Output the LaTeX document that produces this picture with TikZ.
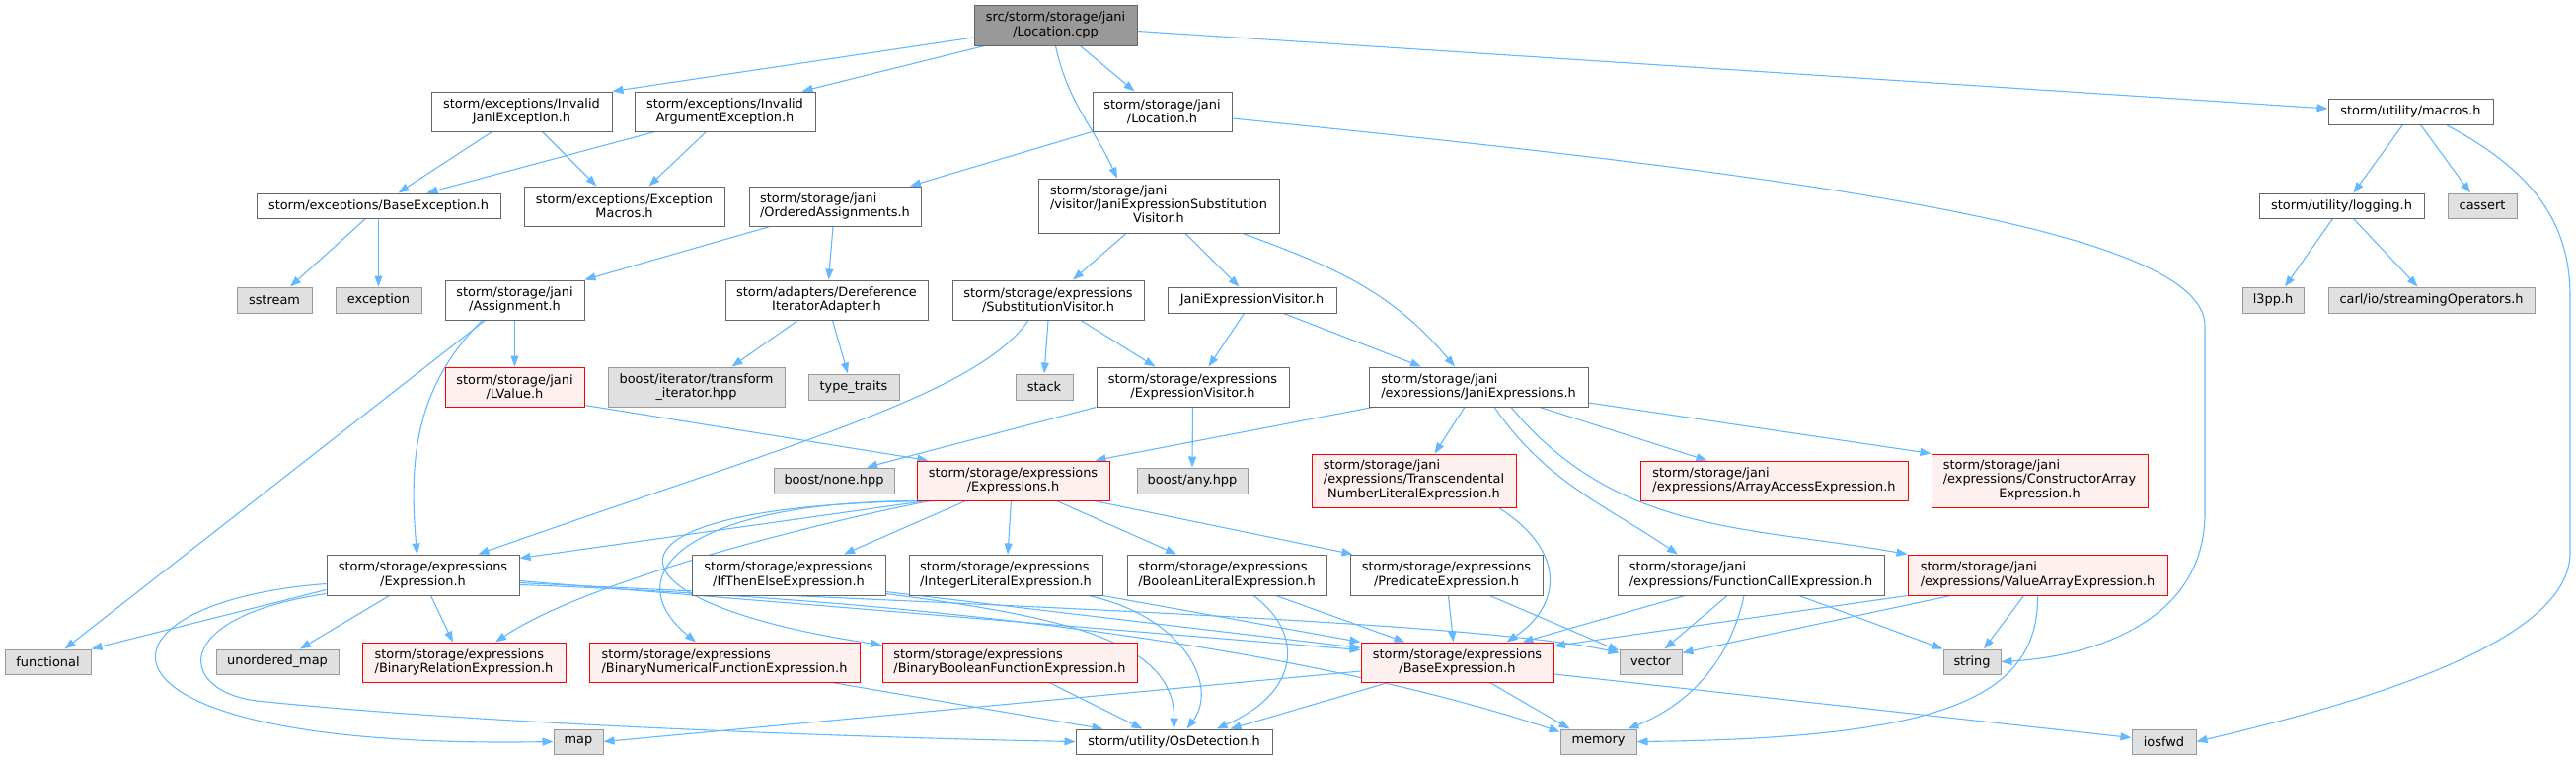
\documentclass[tikz,border=0pt]{standalone}
\usepackage{fontspec}
\setmainfont{DejaVu Sans}
\usetikzlibrary{arrows.meta,backgrounds}
\definecolor{depblue}{HTML}{63B8FF}
\definecolor{boxline}{HTML}{666666}
\definecolor{sysfill}{HTML}{E0E0E0}
\definecolor{sysline}{HTML}{999999}
\definecolor{redfill}{HTML}{FFF0F0}
\definecolor{redline}{HTML}{FF0000}
\definecolor{rootfill}{HTML}{999999}
\tikzset{
  inc/.style 2 args={line width=1pt, inner sep=1pt, minimum width=#1pt, minimum height=#2pt,
    font=\fontsize{12.9}{14.3}\selectfont, align=center},
  hdr/.style={draw=boxline, fill=white},
  sys/.style={draw=sysline, fill=sysfill},
  trunc/.style={draw=redline, fill=redfill},
  root/.style={draw=boxline, fill=rootfill},
  dep/.style={draw=depblue, line width=1.1pt, -{Triangle[length=11pt,width=8pt]}}
}
\newcommand{\leftlines}[3]{\begin{tabular}{@{}l@{}}#1\\#2\\\multicolumn{1}{@{}c@{}}{#3}\end{tabular}}
\begin{document}
\begin{tikzpicture}[x=1pt,y=-1pt]
	\useasboundingbox (0,0) rectangle (2610,769);

	% Source file and direct includes
	\node[inc={165}{41}, root] (loccpp) at (1069.5,25.5) {src/storm/storage/jani\\/Location.cpp};
	\node[inc={183}{40}, hdr] (invjani) at (528.5,113) {storm/exceptions/Invalid\\JaniException.h};
	\node[inc={183}{40}, hdr] (invarg) at (734.5,113) {storm/exceptions/Invalid\\ArgumentException.h};
	\node[inc={141}{40}, hdr] (loch) at (1177.5,113) {storm/storage/jani\\/Location.h};
	\node[inc={167}{26}, hdr] (macros) at (2442.5,113) {storm/utility/macros.h};

	% Second row
	\node[inc={247}{25}, hdr] (baseexc) at (383.5,208.5) {storm/exceptions/BaseException.h};
	\node[inc={203}{40}, hdr] (excmacros) at (632.5,209) {storm/exceptions/Exception\\Macros.h};
	\node[inc={174}{40}, hdr, align=left] (ordered) at (846,209) {storm/storage/jani\\/OrderedAssignments.h};
	\node[inc={244}{55}, hdr] (subvisitor) at (1174,208.5) {\leftlines{storm/storage/jani}{/visitor/JaniExpressionSubstitution}{Visitor.h}};
	\node[inc={167}{25}, hdr] (logging) at (2372.5,208.5) {storm/utility/logging.h};
	\node[inc={70}{25}, sys] (cassert) at (2515,208.5) {cassert};

	% Third row
	\node[inc={76}{26}, sys] (sstream) at (278,304) {sstream};
	\node[inc={87}{26}, sys] (exception) at (383.5,304) {exception};
	\node[inc={141}{40}, hdr] (assignment) at (521.5,304) {storm/storage/jani\\/Assignment.h};
	\node[inc={205}{40}, hdr] (deref) at (837.5,304) {storm/adapters/Dereference\\IteratorAdapter.h};
	\node[inc={194}{40}, hdr] (substvis) at (1062,304) {storm/storage/expressions\\/SubstitutionVisitor.h};
	\node[inc={171}{26}, hdr] (janivis) at (1268.5,304) {JaniExpressionVisitor.h};
	\node[inc={62}{26}, sys] (l3pp) at (2303,304) {l3pp.h};
	\node[inc={209}{26}, sys] (carl) at (2463.5,304) {carl/io/streamingOperators.h};

	% Fourth row
	\node[inc={141}{40}, trunc] (lvalue) at (521.5,392) {storm/storage/jani\\/LValue.h};
	\node[inc={179}{40}, sys] (transform) at (705.5,392) {boost/iterator/transform\\\_iterator.hpp};
	\node[inc={92}{26}, sys] (typetraits) at (865,392) {type\_traits};
	\node[inc={58}{26}, sys] (stack) at (1058,392) {stack};
	\node[inc={195}{40}, hdr] (exprvis) at (1208.5,392) {storm/storage/expressions\\/ExpressionVisitor.h};
	\node[inc={222}{40}, hdr, align=left] (janiexprs) at (1498,392) {storm/storage/jani\\/expressions/JaniExpressions.h};

	% Fifth row
	\node[inc={122}{26}, sys] (boostnone) at (845,487) {boost/none.hpp};
	\node[inc={195}{40}, trunc] (exprs) at (1026.5,487) {storm/storage/expressions\\/Expressions.h};
	\node[inc={112}{26}, sys] (boostany) at (1208,487) {boost/any.hpp};
	\node[inc={207}{54}, trunc] (transc) at (1432.5,487) {\leftlines{storm/storage/jani}{/expressions/Transcendental}{NumberLiteralExpression.h}};
	\node[inc={271}{40}, trunc, align=left] (arrayacc) at (1797.5,487) {storm/storage/jani\\/expressions/ArrayAccessExpression.h};
	\node[inc={219}{54}, trunc] (constr) at (2066.5,487) {\leftlines{storm/storage/jani}{/expressions/ConstructorArray}{Expression.h}};

	% Sixth row
	\node[inc={195}{41}, hdr] (expr) at (428.5,582.5) {storm/storage/expressions\\/Expression.h};
	\node[inc={196}{41}, hdr] (ifthen) at (799,582.5) {storm/storage/expressions\\/IfThenElseExpression.h};
	\node[inc={196}{41}, hdr, align=left] (intlit) at (1019,582.5) {storm/storage/expressions\\/IntegerLiteralExpression.h};
	\node[inc={202}{41}, hdr, align=left] (boollit) at (1243,582.5) {storm/storage/expressions\\/BooleanLiteralExpression.h};
	\node[inc={195}{41}, hdr] (pred) at (1465.5,582.5) {storm/storage/expressions\\/PredicateExpression.h};
	\node[inc={270}{41}, hdr, align=left] (funcall) at (1774,582.5) {storm/storage/jani\\/expressions/FunctionCallExpression.h};
	\node[inc={263}{41}, trunc, align=left] (valarr) at (2064.5,582.5) {storm/storage/jani\\/expressions/ValueArrayExpression.h};

	% Seventh row
	\node[inc={87}{25}, sys] (functional) at (48.5,670.5) {functional};
	\node[inc={124}{25}, sys] (unordmap) at (281,670.5) {unordered\_map};
	\node[inc={206}{40}, trunc, align=left] (binrel) at (470,671) {storm/storage/expressions\\/BinaryRelationExpression.h};
	\node[inc={274}{40}, trunc, align=left] (binnum) at (734,671) {storm/storage/expressions\\/BinaryNumericalFunctionExpression.h};
	\node[inc={258}{40}, trunc, align=left] (binbool) at (1023,671) {storm/storage/expressions\\/BinaryBooleanFunctionExpression.h};
	\node[inc={195}{40}, trunc] (baseexpr) at (1476.5,671) {storm/storage/expressions\\/BaseExpression.h};
	\node[inc={63}{25}, sys] (vector) at (1672.5,670.5) {vector};
	\node[inc={58}{25}, sys] (string) at (1998,670.5) {string};

	% Bottom row
	\node[inc={50}{25}, sys] (map) at (586,751.5) {map};
	\node[inc={199}{25}, hdr] (osdet) at (1189.5,751.5) {storm/utility/OsDetection.h};
	\node[inc={77}{25}, sys] (memory) at (1619.5,751.5) {memory};
	\node[inc={65}{25}, sys] (iosfwd) at (2192.5,751.5) {iosfwd};

	\begin{scope}[on background layer]
		% From the source file
		\draw[dep] ([yshift=-12.5pt]loccpp.west) -- (invjani.north east);
		\draw[dep] ([xshift=-72pt]loccpp.south) -- ([xshift=78pt]invarg.north);
		\draw[dep] ([xshift=25pt]loccpp.south) -- ([xshift=-28pt]loch.north);
		\draw[dep] (loccpp.south) to[out=-78,in=115] ([xshift=-42pt]subvisitor.north);
		\draw[dep] ([yshift=-6pt]loccpp.east) -- ([yshift=3pt]macros.west);

		% Exceptions
		\draw[dep] ([xshift=-30pt]invjani.south) -- ([xshift=20pt]baseexc.north);
		\draw[dep] ([xshift=21pt]invjani.south) -- ([xshift=-28pt]excmacros.north);
		\draw[dep] ([xshift=-71pt]invarg.south) -- ([xshift=49pt]baseexc.north);
		\draw[dep] ([xshift=-19pt]invarg.south) -- ([xshift=25pt]excmacros.north);
		\draw[dep] ([xshift=-13pt]baseexc.south) -- ([xshift=16pt]sstream.north);
		\draw[dep] (baseexc.south) -- (exception.north);

		% Location.h
		\draw[dep] (loch.south west) -- ([xshift=76pt]ordered.north);
		\draw[dep] ([yshift=-7pt]loch.east) .. controls (1800,175) and (2234,230) .. (2234,330)
			-- (2234,520) .. controls (2234,630) and (2120,665) .. (string.east);

		% Utility
		\draw[dep] ([xshift=-8pt]macros.south) -- ([xshift=12pt]logging.north);
		\draw[dep] ([xshift=10pt]macros.south) -- ([xshift=-12pt]cassert.north);
		\draw[dep] ([xshift=36pt]macros.south) .. controls (2560,170) and (2604,220) .. (2604,300)
			-- (2604,560) .. controls (2604,650) and (2400,710) .. (iosfwd.east);
		\draw[dep] ([xshift=-9pt]logging.south) -- ([xshift=12pt]l3pp.north);
		\draw[dep] ([xshift=12pt]logging.south) -- ([xshift=-14pt]carl.north);

		% Assignments
		\draw[dep] ([xshift=-66pt]ordered.south) -- (assignment.north east);
		\draw[dep] ([xshift=-2pt]ordered.south) -- ([xshift=2pt]deref.north);
		\draw[dep] ([xshift=-30pt]assignment.south) -- ([xshift=17pt]functional.north);
		\draw[dep] (assignment.south) -- (lvalue.north);
		\draw[dep] ([xshift=-33pt]assignment.south) to[out=-135,in=95] ([xshift=-6pt]expr.north);
		\draw[dep] ([xshift=-29pt]deref.south) -- ([xshift=36pt]transform.north);
		\draw[dep] ([xshift=6pt]deref.south) -- ([xshift=-6pt]typetraits.north);
		\draw[dep] ([yshift=2pt]lvalue.south east) -- ([xshift=-86pt]exprs.north);

		% Visitors
		\draw[dep] ([xshift=-33pt]subvisitor.south) -- ([xshift=25pt]substvis.north);
		\draw[dep] ([xshift=27pt]subvisitor.south) -- ([xshift=-13pt]janivis.north);
		\draw[dep] ([xshift=85pt]subvisitor.south) to[out=-20,in=130] ([xshift=-24pt]janiexprs.north);
		\draw[dep] (substvis.south) -- (stack.north);
		\draw[dep] ([xshift=33pt]substvis.south) -- ([xshift=-38pt]exprvis.north);
		\draw[dep] ([xshift=-20pt]substvis.south) .. controls (990,400) and (800,450) .. ([xshift=56pt]expr.north);
		\draw[dep] ([xshift=-8pt]janivis.south) -- ([xshift=16pt]exprvis.north);
		\draw[dep] ([xshift=32pt]janivis.south) -- ([xshift=-58pt]janiexprs.north);
		\draw[dep] (exprvis.south west) -- ([xshift=33pt]boostnone.north);
		\draw[dep] (exprvis.south) -- (boostany.north);

		% Jani expressions
		\draw[dep] ([xshift=-107pt]janiexprs.south) -- ([xshift=83pt]exprs.north);
		\draw[dep] ([xshift=-14pt]janiexprs.south) -- ([xshift=21pt]transc.north);
		\draw[dep] ([xshift=62pt]janiexprs.south) -- ([xshift=-68pt]arrayacc.north);
		\draw[dep] ([yshift=-16pt]janiexprs.east) -- (constr.north west);
		\draw[dep] ([xshift=16pt]janiexprs.south) to[out=-55,in=146] ([xshift=-74pt]funcall.north);
		\draw[dep] ([xshift=33pt]janiexprs.south) to[out=-50,in=170] (valarr.north west);

		% Expressions.h
		\draw[dep] ([xshift=-88pt]exprs.south) -- ([yshift=-4pt]expr.north east);
		\draw[dep] ([xshift=-48pt]exprs.south) -- ([xshift=56pt]ifthen.north);
		\draw[dep] ([xshift=-2pt]exprs.south) -- ([xshift=2pt]intlit.north);
		\draw[dep] ([xshift=44pt]exprs.south) -- ([xshift=-51pt]boollit.north);
		\draw[dep] ([xshift=82pt]exprs.south) -- ([xshift=-95pt]pred.north);
		\draw[dep] ([xshift=-84pt]exprs.south) .. controls (850,525) and (600,585) .. ([xshift=32pt]binrel.north);
		\draw[dep] ([xshift=-80pt]exprs.south) .. controls (700,505) and (620,580) .. ([xshift=-29pt]binnum.north);
		\draw[dep] ([xshift=-76pt]exprs.south) .. controls (580,510) and (600,610) .. ([yshift=-3pt]binbool.north west);
		\draw[dep] ([xshift=86pt]transc.south) .. controls (1590,560) and (1580,615) .. ([xshift=50pt]baseexpr.north);

		% Expression.h
		\draw[dep] ([yshift=-15pt]expr.west) -- (functional.north east);
		\draw[dep] ([xshift=-34pt]expr.south) -- ([xshift=23pt]unordmap.north);
		\draw[dep] ([xshift=8pt]expr.south) -- ([xshift=-11pt]binrel.north);
		\draw[dep] ([yshift=-9pt]expr.west) .. controls (80,610) and (60,760) .. (map.west);
		\draw[dep] ([yshift=-19pt]expr.west) .. controls (170,625) and (180,700) .. (260,710)
			.. controls (500,735) and (900,748) .. (osdet.west);
		\draw[dep] ([yshift=-6pt]expr.east) -- ([yshift=-8pt]baseexpr.north west);
		\draw[dep] ([yshift=-8pt]expr.east) .. controls (1000,614) and (1500,630) .. ([yshift=-4pt]vector.north west);
		\draw[dep] ([yshift=-10pt]expr.east) .. controls (1000,610) and (1350,665) .. ([yshift=-3pt]memory.north west);

		% Literal and predicate expressions
		\draw[dep] ([yshift=-17pt]ifthen.east) -- ([yshift=-6pt]baseexpr.north west);
		\draw[dep] ([yshift=-19pt]ifthen.east) .. controls (1080,625) and (1190,650) .. (osdet.north);
		\draw[dep] (intlit.south east) -- (baseexpr.north west);
		\draw[dep] ([xshift=84pt]intlit.south) .. controls (1200,625) and (1235,695) .. ([xshift=13pt]osdet.north);
		\draw[dep] ([xshift=27pt]boollit.south) .. controls (1320,640) and (1320,700) .. ([xshift=43pt]osdet.north);
		\draw[dep] ([xshift=50pt]boollit.south) -- ([xshift=-53pt]baseexpr.north);
		\draw[dep] ([xshift=2pt]pred.south) -- ([xshift=-4pt]baseexpr.north);
		\draw[dep] ([xshift=44pt]pred.south) -- ([yshift=-2pt]vector.north west);

		% Array and function expressions
		\draw[dep] ([xshift=-67pt]funcall.south) -- ([xshift=66pt]baseexpr.north);
		\draw[dep] ([xshift=-24pt]funcall.south) -- ([xshift=14pt]vector.north);
		\draw[dep] ([xshift=-7pt]funcall.south) .. controls (1755,660) and (1720,710) .. ([xshift=30pt]memory.north);
		\draw[dep] ([xshift=49pt]funcall.south) -- (string.north west);
		\draw[dep] (valarr.south west) -- ([yshift=-4pt]baseexpr.north east);
		\draw[dep] ([xshift=-88pt]valarr.south) -- ([yshift=-4pt]vector.north east);
		\draw[dep] ([xshift=-14pt]valarr.south) -- ([xshift=12pt]string.north);
		\draw[dep] (valarr.south) .. controls (2066,710) and (1960,748) .. (memory.east);

		% Binary expressions and BaseExpression.h
		\draw[dep] ([xshift=109pt]binnum.south) -- ([xshift=-72pt]osdet.north);
		\draw[dep] ([xshift=40pt]binbool.south) -- ([xshift=-32pt]osdet.north);
		\draw[dep] ([yshift=-9pt]baseexpr.west) -- (map.east);
		\draw[dep] ([xshift=-70pt]baseexpr.south) -- ([xshift=57pt]osdet.north);
		\draw[dep] ([xshift=33pt]baseexpr.south) -- ([xshift=-29pt]memory.north);
		\draw[dep] ([yshift=-12pt]baseexpr.east) -- ([yshift=4pt]iosfwd.west);
	\end{scope}
\end{tikzpicture}
\end{document}
